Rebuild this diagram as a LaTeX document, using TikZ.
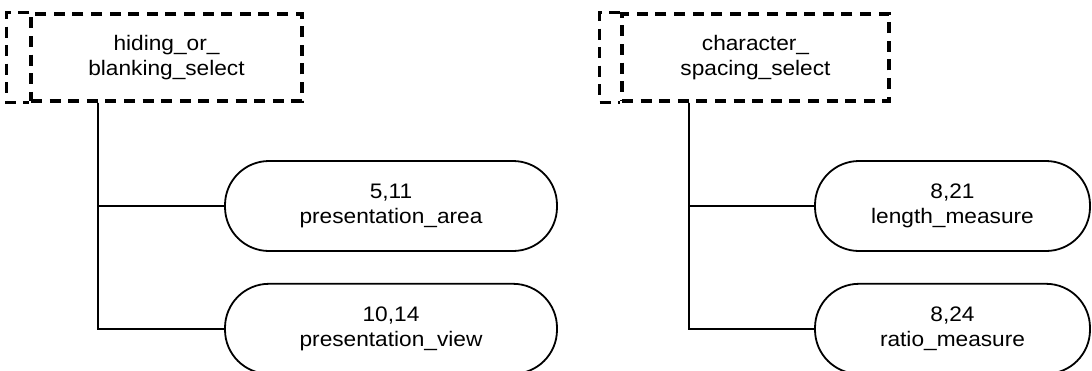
\documentclass[tikz,border=0pt]{standalone}
\usepackage{fontspec}
\setmainfont{Liberation Sans}[FakeStretch=1.08]
\usetikzlibrary{positioning}

\begin{document}
\begin{tikzpicture}[
  x=1pt, y=1pt,
  node distance=15.5pt,
  every node/.style={font=\fontsize{10.5}{12.5}\selectfont},
  dashedge/.style={draw, line width=1.7pt, dash pattern=on 5.5pt off 3.8pt},
  select/.style={dashedge, rectangle, minimum height=43.5pt, inner sep=0pt, align=center},
  item/.style={rectangle, draw, rounded corners=22pt, line width=0.9pt, minimum height=45pt, inner sep=0pt, align=center},
  link/.style={line width=0.9pt}
]
\useasboundingbox (0,0) rectangle (546,-185);

% left group
\node[select, minimum width=135.5pt] (hiding) at (83.25,-28.75) {hiding\_or\_\\ blanking\_select};
\draw[dashedge] (hiding.north west) -- ++(-11.5,0) |- (hiding.south west);
\node[item, minimum width=166pt] (area) at (195.5,-103) {5,11\\ presentation\_area};
\node[item, minimum width=166pt, below=of area] (view) {10,14\\ presentation\_view};

% right group
\node[select, minimum width=133.5pt] (spacing) at (377.75,-28.75) {character\_\\ spacing\_select};
\draw[dashedge] (spacing.north west) -- ++(-10.5,0) |- (spacing.south west);
\node[item, minimum width=137.5pt] (length) at (476.25,-103) {8,21\\ length\_measure};
\node[item, minimum width=137.5pt, below=of length] (ratio) {8,24\\ ratio\_measure};

% Links
\draw[link] ([xshift=34.5pt]hiding.south west) |- (area.west);
\draw[link] ([xshift=34.5pt]hiding.south west) |- (view.west);
\draw[link] ([xshift=34.5pt]spacing.south west) |- (length.west);
\draw[link] ([xshift=34.5pt]spacing.south west) |- (ratio.west);

\end{tikzpicture}
\end{document}
